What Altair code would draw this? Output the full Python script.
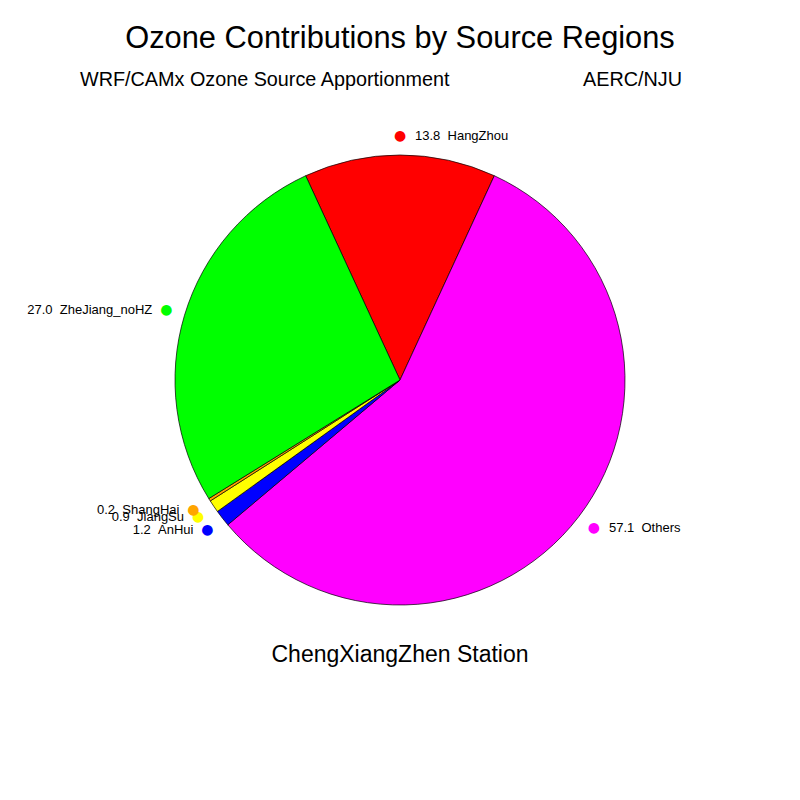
import math
import altair as alt
import pandas as pd

regions = ["HangZhou", "Others", "AnHui", "JiangSu", "ShangHai", "ZheJiang_noHZ"]
values = [13.8, 57.1, 1.2, 0.9, 0.2, 27.0]
colors = ["#FF0000", "#FF00FF", "#0000FF", "#FFFF00", "#FFA500", "#00FF00"]
sides = ["right", "right", "left", "left", "left", "left"]
order = [0, 1, 2, 3, 4, 5]

title_text = "Ozone Contributions by Source Regions"
left_sub = "WRF/CAMx Ozone Source Apportionment"
right_sub = "AERC/NJU"
bottom_text = "ChengXiangZhen Station"

FONT = "Liberation Sans"

df = pd.DataFrame({
    "region": regions,
    "value": values,
    "order": order,
    "side": sides,
    "label": [f"{v:.1f} \u00a0{r}" for v, r in zip(values, regions)],
    "dot": ["\u25cf"] * len(regions),
})

total = sum(values)
start = -values[0] / total * math.pi
theta_scale = alt.Scale(domain=[0, total], range=[start, start + 2 * math.pi])
color = alt.Color("region:N", scale=alt.Scale(domain=regions, range=colors), legend=None)

CX, CY = 392, 372

base = alt.Chart(df).transform_window(
    cum="sum(value)", sort=[alt.SortField("order")], frame=[None, 0]
).transform_calculate(
    start="datum.cum - datum.value",
    mid="datum.cum - datum.value / 2",
).encode(x=alt.value(CX), y=alt.value(CY))

pie = base.mark_arc(outerRadius=225, stroke="black", strokeWidth=0.7).encode(
    theta=alt.Theta("start:Q", scale=theta_scale),
    theta2="cum:Q",
    color=color,
)

mid_theta = alt.Theta("mid:Q", scale=theta_scale)

dots = base.mark_text(radius=244, fontSize=14, font="DejaVu Sans", baseline="middle", align="center").encode(
    theta=mid_theta, text="dot:N", color=color
)

labels_right = base.mark_text(radius=244, dx=15, align="left", baseline="middle",
                              fontSize=13, font=FONT, color="black").encode(
    theta=mid_theta, text="label:N"
).transform_filter(alt.datum.side == "right")

labels_left = base.mark_text(radius=244, dx=-14, align="right", baseline="middle",
                             fontSize=13, font=FONT, color="black").encode(
    theta=mid_theta, text="label:N"
).transform_filter(alt.datum.side == "left")

def annot(txt, x, y, size, align):
    return alt.Chart(pd.DataFrame({"t": [txt]})).mark_text(
        font=FONT, fontSize=size, align=align, baseline="alphabetic", color="black"
    ).encode(x=alt.value(x), y=alt.value(y), text="t:N")

t1 = annot(title_text, 392, 40, 30.8, "center")
t2 = annot(left_sub, 72, 78, 19.8, "left")
t3 = annot(right_sub, 674, 78, 19.8, "right")
t4 = annot(bottom_text, 392, 654, 23, "center")

chart = alt.layer(pie, dots, labels_right, labels_left, t1, t2, t3, t4).properties(
    width=784, height=784, padding=0, autosize="none"
).configure_view(stroke=None)

chart.save("out.html", embed_options={"renderer": "svg", "actions": False})
